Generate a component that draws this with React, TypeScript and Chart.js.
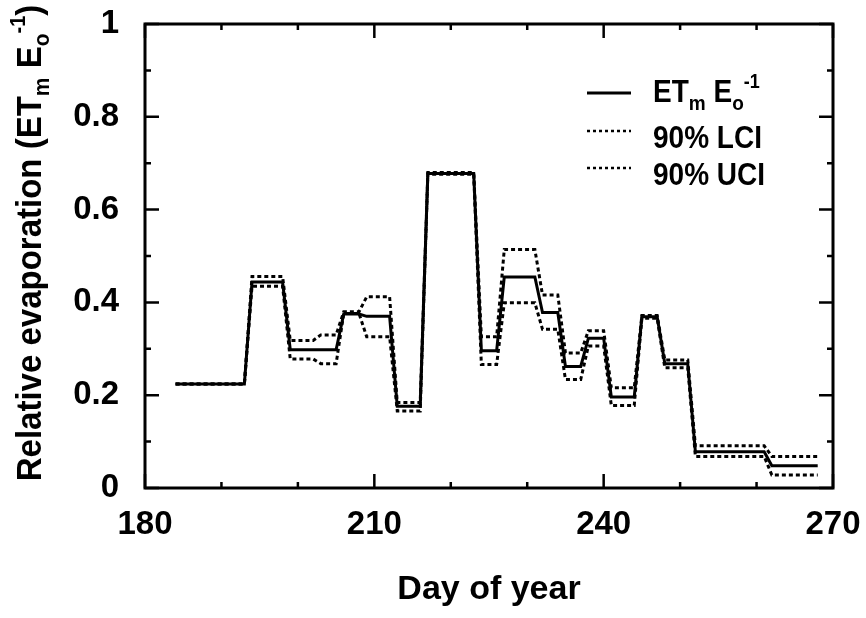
import React, { useEffect, useRef } from 'react';
import { Chart, registerables } from 'chart.js';

Chart.register(...registerables);

// Step segments (day of year) and values
const segStart = [184, 194, 199, 203, 206, 209, 213, 217, 224, 227, 232, 235, 238, 241, 245, 248, 252, 262];
const segEnd = [193, 198, 202, 205, 208, 212, 216, 223, 226, 231, 234, 237, 240, 244, 247, 251, 261, 268];
const meanVals = [0.224, 0.444, 0.298, 0.298, 0.375, 0.370, 0.176, 0.678, 0.296, 0.455, 0.378, 0.262, 0.323, 0.196, 0.369, 0.268, 0.078, 0.048];
const lciVals = [0.224, 0.435, 0.278, 0.268, 0.376, 0.326, 0.166, 0.676, 0.266, 0.399, 0.342, 0.234, 0.306, 0.178, 0.366, 0.259, 0.068, 0.028];
const uciVals = [0.224, 0.456, 0.318, 0.330, 0.380, 0.412, 0.184, 0.680, 0.326, 0.514, 0.416, 0.291, 0.339, 0.216, 0.372, 0.276, 0.091, 0.068];

const xTickLabels = ['180', '210', '240', '270'];
const yTickLabels = ['0', '0.2', '0.4', '0.6', '0.8', '1'];
const seriesNames = ['ET_m E_o^-1', '90% LCI', '90% UCI'];

const FONT = "'Liberation Sans', Arial, Helvetica, sans-serif";

function toPoints(vals: number[]) {
  const pts: { x: number; y: number }[] = [];
  for (let i = 0; i < vals.length; i++) {
    pts.push({ x: segStart[i], y: vals[i] });
    pts.push({ x: segEnd[i], y: vals[i] });
  }
  return pts;
}

type Part = { text: string; size: number; dy: number };

function drawParts(ctx: CanvasRenderingContext2D, parts: Part[], startX: number) {
  let x = startX;
  for (const p of parts) {
    ctx.font = `bold ${p.size}px ${FONT}`;
    ctx.fillText(p.text, x, p.dy);
    x += ctx.measureText(p.text).width;
  }
}
function partsWidth(ctx: CanvasRenderingContext2D, parts: Part[]) {
  let w = 0;
  for (const p of parts) {
    ctx.font = `bold ${p.size}px ${FONT}`;
    w += ctx.measureText(p.text).width;
  }
  return w;
}

const frameTicksPlugin = {
  id: 'frameTicks',
  afterDatasetsDraw(chart: any) {
    const { ctx, chartArea } = chart;
    const { left, right, top, bottom } = chartArea;
    const xs = chart.scales.x;
    const ys = chart.scales.y;
    ctx.save();
    ctx.strokeStyle = '#000';
    ctx.lineWidth = 3;
    ctx.setLineDash([]);
    ctx.strokeRect(left, top, right - left, bottom - top);
    ctx.lineWidth = 2.5;
    ctx.beginPath();
    for (let v = 180; v <= 270; v += 10) {
      const px = xs.getPixelForValue(v);
      const len = v % 30 === 0 ? 14 : 6;
      ctx.moveTo(px, bottom);
      ctx.lineTo(px, bottom - len);
      ctx.moveTo(px, top);
      ctx.lineTo(px, top + len);
    }
    for (let k = 0; k <= 10; k++) {
      const py = ys.getPixelForValue(k / 10);
      const len = k % 2 === 0 ? 14 : 6;
      ctx.moveTo(left, py);
      ctx.lineTo(left + len, py);
      ctx.moveTo(right, py);
      ctx.lineTo(right - len, py);
    }
    ctx.stroke();
    ctx.restore();
  },
};

const yTitlePlugin = {
  id: 'yTitle',
  afterDraw(chart: any) {
    const ctx: CanvasRenderingContext2D = chart.ctx;
    ctx.save();
    ctx.fillStyle = '#000';
    ctx.textBaseline = 'alphabetic';
    ctx.textAlign = 'left';
    ctx.translate(41, 243);
    ctx.rotate(-Math.PI / 2);
    ctx.scale(1, 1.08);
    const parts: Part[] = [
      { text: 'Relative evaporation (ET', size: 33, dy: 0 },
      { text: 'm', size: 21, dy: 7 },
      { text: ' E', size: 33, dy: 0 },
      { text: 'o', size: 21, dy: 7 },
      { text: '-1', size: 20, dy: -15 },
      { text: ')', size: 33, dy: 0 },
    ];
    const w = partsWidth(ctx, parts);
    drawParts(ctx, parts, -w / 2);
    ctx.restore();
  },
};

const legendPlugin = {
  id: 'customLegend',
  afterDraw(chart: any) {
    const ctx: CanvasRenderingContext2D = chart.ctx;
    const rows = [
      { lineY: 93, base: 102, dash: [] as number[], width: 3 },
      { lineY: 131, base: 148, dash: [3, 3], width: 2.5 },
      { lineY: 168, base: 185, dash: [3, 3], width: 2.5 },
    ];
    ctx.save();
    ctx.fillStyle = '#000';
    ctx.strokeStyle = '#000';
    ctx.textAlign = 'left';
    ctx.textBaseline = 'alphabetic';
    rows.forEach((r, i) => {
      ctx.lineWidth = r.width;
      ctx.setLineDash(r.dash);
      ctx.beginPath();
      ctx.moveTo(587, r.lineY);
      ctx.lineTo(631, r.lineY);
      ctx.stroke();
      ctx.setLineDash([]);
      ctx.save();
      ctx.translate(653, r.base);
      ctx.scale(1, 1.1);
      let parts: Part[];
      if (i === 0) {
        const [a, b] = seriesNames[0].split(' ');
        parts = [
          { text: a.split('_')[0], size: 28, dy: 0 },
          { text: a.split('_')[1], size: 19, dy: 7 },
          { text: ' ' + b.split('_')[0], size: 28, dy: 0 },
          { text: b.split('_')[1].split('^')[0], size: 19, dy: 7 },
          { text: b.split('^')[1], size: 18, dy: -13 },
        ];
      } else {
        parts = [{ text: seriesNames[i], size: 28, dy: 0 }];
      }
      drawParts(ctx, parts, 0);
      ctx.restore();
    });
    ctx.restore();
  },
};

export default function App() {
  const canvasRef = useRef<HTMLCanvasElement | null>(null);

  useEffect(() => {
    if (!canvasRef.current) return;
    const chart = new Chart(canvasRef.current, {
      type: 'line',
      data: {
        datasets: [
          {
            label: seriesNames[0],
            data: toPoints(meanVals),
            borderColor: '#000',
            borderWidth: 3,
            pointRadius: 0,
            tension: 0,
            fill: false,
            borderJoinStyle: 'miter',
          },
          {
            label: seriesNames[1],
            data: toPoints(lciVals),
            borderColor: '#000',
            borderWidth: 3,
            borderDash: [4, 3],
            pointRadius: 0,
            tension: 0,
            fill: false,
          },
          {
            label: seriesNames[2],
            data: toPoints(uciVals),
            borderColor: '#000',
            borderWidth: 3,
            borderDash: [4, 3],
            pointRadius: 0,
            tension: 0,
            fill: false,
          },
        ],
      },
      options: {
        animation: false,
        responsive: false,
        devicePixelRatio: 1,
        layout: { padding: { top: 24, right: 33, left: 0, bottom: 0 } },
        plugins: {
          legend: { display: false },
          tooltip: { enabled: false },
          title: { display: false },
        },
        scales: {
          x: {
            type: 'linear',
            position: 'bottom',
            min: 180,
            max: 270,
            grid: { display: false, drawTicks: false },
            border: { display: false },
            ticks: {
              stepSize: 10,
              autoSkip: false,
              maxRotation: 0,
              padding: 17,
              color: '#000',
              font: { family: FONT, size: 33, weight: 'bold' },
              callback: (v: any) => {
                const n = Math.round(Number(v));
                return n % 30 === 0 ? xTickLabels[(n - 180) / 30] : '';
              },
            },
            title: {
              display: true,
              text: 'Day of year',
              color: '#000',
              font: { family: FONT, size: 34, weight: 'bold' },
              padding: { top: 0, bottom: 8 },
            },
            afterFit: (scale: any) => {
              scale.height = 130;
              scale.paddingLeft = 0;
              scale.paddingRight = 0;
            },
          },
          y: {
            type: 'linear',
            min: 0,
            max: 1,
            grid: { display: false, drawTicks: false },
            border: { display: false },
            ticks: {
              stepSize: 0.1,
              autoSkip: false,
              padding: 26,
              color: '#000',
              font: { family: FONT, size: 33, weight: 'bold' },
              callback: (v: any) => {
                const k = Math.round(Number(v) * 10);
                return k % 2 === 0 ? yTickLabels[k / 2] : '';
              },
            },
            afterFit: (scale: any) => {
              scale.width = 145;
              scale.paddingTop = 0;
              scale.paddingBottom = 0;
            },
          },
        },
      } as any,
      plugins: [frameTicksPlugin, yTitlePlugin, legendPlugin],
    });
    return () => chart.destroy();
  }, []);

  return (
    <div style={{ position: 'absolute', left: 0, top: 0, width: 866, height: 618, background: '#fff' }}>
      <canvas ref={canvasRef} width={866} height={618} style={{ display: 'block' }} />
    </div>
  );
}
